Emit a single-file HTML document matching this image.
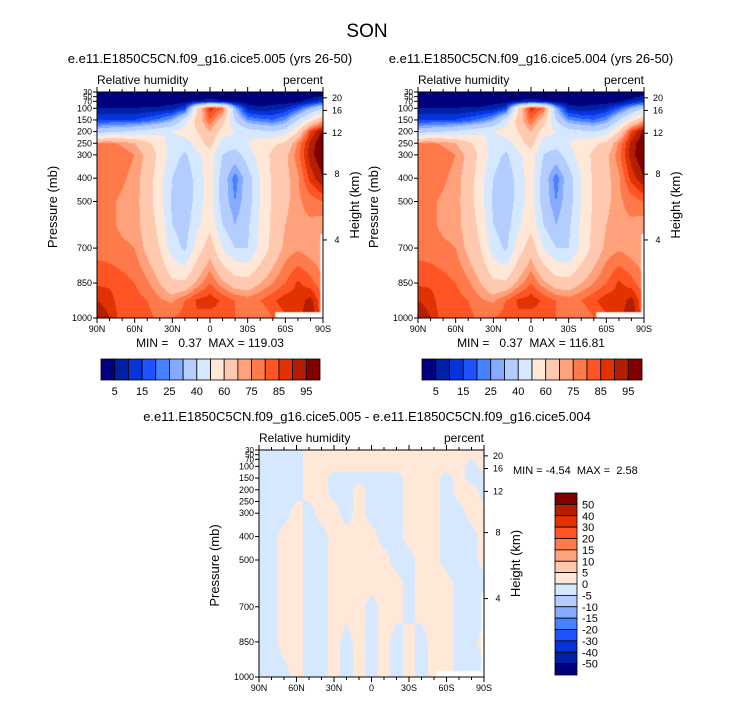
<!DOCTYPE html>
<html><head><meta charset="utf-8">
<style>
html,body{margin:0;padding:0;background:#fff;}
#wrap{position:relative;width:733px;height:701px;overflow:hidden;font-family:"Liberation Sans",Helvetica,sans-serif;}
canvas{position:absolute;}
svg{position:absolute;left:0;top:0;}
text{white-space:pre;}
</style></head>
<body>
<div id="wrap">
<canvas id="c1"></canvas>
<canvas id="c2"></canvas>
<canvas id="c3"></canvas>
<svg id="ov" width="733" height="701"></svg>
</div>
<script>
// ---- data ----
const lats = [90,80,70,60,50,40,30,20,10,0,-10,-20,-30,-40,-50,-60,-70,-80,-90];
const presLevels = [30,50,70,100,150,200,250,300,400,500,600,700,850,925,1000];
const rhRows = [
 [2,2,2,2,2,2,2,2,2,2,2,2,2,2,2,2,2,2,3],
 [2,2,2,2,2,2,2,2,2,3,2,2,2,2,2,2,2,3,6],
 [2,2,2,2,2,2,2,3,5,8,5,2,2,2,2,2,3,8,14],
 [5,5,5,5,6,6,8,14,60,88,80,30,8,6,8,10,18,30,40],
 [15,15,15,15,18,22,28,45,65,80,65,40,25,22,20,25,40,55,70],
 [35,38,40,42,45,48,50,55,60,70,55,50,45,42,40,45,60,85,97],
 [76,76,74,70,62,55,45,45,55,65,45,45,50,55,58,62,76,92,100],
 [80,80,78,75,68,57,45,38,48,55,40,35,45,55,62,68,78,93,100],
 [80,79,76,73,66,54,40,32,45,55,35,22,35,50,62,68,74,87,95],
 [78,76,74,73,65,54,38,32,45,55,35,25,35,50,62,68,74,77,80],
 [78,76,74,73,66,57,40,35,48,57,40,30,38,52,62,70,74,74,72],
 [78,77,76,75,68,60,45,38,55,66,50,40,40,52,64,72,74,72,70],
 [84,84,82,80,76,70,62,62,72,80,72,65,64,70,75,80,86,82,76],
 [90,87,82,82,80,76,74,80,86,88,84,80,78,80,84,88,87,92,80],
 [96,90,82,84,82,78,80,82,84,82,82,80,77,75,80,84,87,96,80]
];
const rhBounds = [5,10,15,20,25,30,40,50,60,70,75,80,85,90,95];
const rhTickLabels = ["5","15","25","40","60","75","85","95"];
const diffPres = [30,100,150,200,300,400,500,600,700,850,1000];
const diffRows = [
 [-1,-1,-1,-1,1,1,1,1,1,1,1,1,1,1,1,1,1,1,1],
 [-1,-1,-1,-1,1,1,1,1,1,1,1,1,1,1,1,1,1,-1,1],
 [-1,-1,-1,-1,1,1,-1,-1,-1,-1,-1,-1,1,1,1,-1,1,-1,-1],
 [-1,-1,-1,-1,1,1,-1,-1,1,-1,-1,-1,1,1,1,-1,1,1,-1],
 [-1,-1,-1,1,-1,1,1,-1,1,-1,-1,-1,1,1,1,-1,-1,1,1],
 [-1,-1,1,1,-1,-1,1,1,1,1,-1,-1,1,1,1,-1,-1,-1,1],
 [-1,-1,1,1,-1,-1,1,1,1,1,1,-1,-1,1,1,-1,-1,-1,1],
 [-1,-1,1,1,-1,-1,1,1,1,1,1,1,-1,1,1,1,-1,-1,-1],
 [-1,-1,1,1,-1,-1,1,1,1,-1,1,1,-1,1,1,1,-1,-1,-1],
 [-1,-1,1,1,-1,-1,1,-1,1,-1,1,-1,1,-1,1,1,-1,-1,1],
 [-1,-1,-1,1,-1,-1,1,-1,1,-1,1,-1,1,-1,1,1,-1,-1,-1]
];
const diffBounds = [-50,-40,-30,-20,-15,-10,-5,0,5,10,15,20,30,40,50];
const pTicks = [30,50,70,100,150,200,250,300,400,500,700,850,1000];
const hTicks = ["20","16","12","8","4"];
const hTickPres = [55,109,207,383,665];
const xTickLats = [90,60,30,0,-30,-60,-90];
const xTickLabels = ["90N","60N","30N","0","30S","60S","90S"];

const colors = ["#00007f","#0020a6","#0534d8","#1e52ff","#4682ff","#85aaff","#b3cdff","#d6e8ff","#ffe8d8","#ffc9b0","#ffa27c","#ff7a4a","#ff5424","#e13200","#b31e00","#800000"];

const svgNS="http://www.w3.org/2000/svg";
const ov=document.getElementById('ov');
function el(tag,attrs,parent){const e=document.createElementNS(svgNS,tag);for(const k in attrs)e.setAttribute(k,attrs[k]);(parent||ov).appendChild(e);return e;}
function txt(s,x,y,size,anchor,extra){const t=el('text',Object.assign({x:x,y:y,'font-size':size,'text-anchor':anchor||'middle',fill:'#000','font-family':'Liberation Sans, Helvetica, sans-serif'},extra||{}));t.textContent=s;return t;}

function levelIndex(v,bounds){let i=0;while(i<bounds.length&&v>=bounds[i])i++;return i;}
function sample(lat,p,rows,pl){
  let fx=(90-lat)/10; let i0=Math.min(17,Math.floor(fx)); let tx=fx-i0;
  let j0=0; while(j0<pl.length-2&&p>pl[j0+1])j0++;
  let ty=(p-pl[j0])/(pl[j0+1]-pl[j0]); ty=Math.max(0,Math.min(1,ty));
  const a=rows[j0][i0],b=rows[j0][i0+1],c=rows[j0+1][i0],d=rows[j0+1][i0+1];
  return (a*(1-tx)+b*tx)*(1-ty)+(c*(1-tx)+d*tx)*ty;
}

function panel(o){
  const {x0,y0,w,h}=o;
  const xs=lat=>x0+(90-lat)/180*w;
  const ys=p=>y0+(p-30)/970*h;
  const cv=document.getElementById(o.canvas);
  cv.width=w;cv.height=h;cv.style.left=x0+'px';cv.style.top=y0+'px';
  const ctx=cv.getContext('2d');
  for(let py=0;py<h;py++){
    const p=30+(py+0.5)/h*970;
    for(let px=0;px<w;px++){
      const lat=90-(px+0.5)/w*180;
      const v=sample(lat,p,o.rows,o.pl);
      ctx.fillStyle=o.colorFn(v);
      ctx.fillRect(px,py,1,1);
    }
  }
  if(o.mask){ctx.fillStyle='#fff';ctx.fillRect(xs(-52)-x0,ys(975)-y0,w,h);ctx.fillRect(xs(-88)-x0,ys(640)-y0,w,h);}
  const g=el('g',{});
  
  
  el('rect',{x:x0,y:y0,width:w,height:h,fill:'none',stroke:'#000','stroke-width':1},g);
  for(let lat=90;lat>=-90;lat-=10){
    const major=lat%30===0;const L=major?5:3;const x=xs(lat);
    el('line',{x1:x,x2:x,y1:y0+h,y2:y0+h+L,stroke:'#000'},g);
    el('line',{x1:x,x2:x,y1:y0,y2:y0-L,stroke:'#000'},g);
  }
  xTickLats.forEach((lat,i)=>{const t=txt(xTickLabels[i],xs(lat),y0+h+14,9,'middle');});
  pTicks.forEach(p=>{const y=ys(p);el('line',{x1:x0,x2:x0-4,y1:y,y2:y,stroke:'#000'},g);
    const t=txt(String(p),x0-5,y+3,p<100?8:9,'end');});
  hTicks.forEach((s,i)=>{const y=ys(hTickPres[i]);el('line',{x1:x0+w,x2:x0+w+4,y1:y,y2:y,stroke:'#000'},g);
    const t=txt(s,x0+w+14,y+3,9,'middle');});
  let t=txt('Pressure (mb)',0,0,13,'middle',{transform:`translate(${x0-40},${y0+h/2+2}) rotate(-90)`});
  
  t=txt('Height (km)',0,0,13,'middle',{transform:`translate(${x0+w+36},${y0+h/2}) rotate(-90)`});
  
  t=txt('Relative humidity',x0,y0-8,12,'start');
  t=txt('percent',x0+w,y0-8,12,'end');
}

const rhColor=v=>colors[levelIndex(v,rhBounds)];
const diffColor=v=>v<0?colors[7]:colors[8];

let t=txt('SON',367,37,19,'middle');

panel({name:'panel-005',canvas:'c1',x0:97,y0:92,w:226,h:226,rows:rhRows,pl:presLevels,colorFn:rhColor,mask:true});
panel({name:'panel-004',canvas:'c2',x0:418,y0:92,w:226,h:226,rows:rhRows,pl:presLevels,colorFn:rhColor,mask:true});
panel({name:'panel-diff',canvas:'c3',x0:259,y0:450,w:225,h:227,rows:diffRows,pl:diffPres,colorFn:diffColor,mask:true});

t=txt('e.e11.E1850C5CN.f09_g16.cice5.005 (yrs 26-50)',210,63,13,'middle');
t=txt('e.e11.E1850C5CN.f09_g16.cice5.004 (yrs 26-50)',531,63,13,'middle');
t=txt('e.e11.E1850C5CN.f09_g16.cice5.005 - e.e11.E1850C5CN.f09_g16.cice5.004',367,421,13,'middle');
t=txt('MIN =   0.37  MAX = 119.03',210,347,12,'middle');
t=txt('MIN =   0.37  MAX = 116.81',531,347,12,'middle');
t=txt('MIN = -4.54  MAX =  2.58',513,474,11,'start');

function hbar(x0,y0,w,h,name){
  const g=el('g',{});
  const bw=w/colors.length;
  colors.forEach((c,i)=>{const r=el('rect',{x:x0+i*bw,y:y0,width:bw,height:h,fill:c,stroke:'#000','stroke-width':0.8},g);
    });
  rhTickLabels.forEach((s,i)=>{const tt=txt(s,x0+(2*i+1)*bw,y0+h+15,11,'middle');});
}
hbar(101,359,219,21,'colorbar-005');
hbar(422,359,220,21,'colorbar-004');

(function(){
  const x0=555,y0=493,w=22,h=182;const g=el('g',{});
  
  const bh=h/colors.length;
  colors.slice().reverse().forEach((c,i)=>{const r=el('rect',{x:x0,y:y0+i*bh,width:w,height:bh,fill:c,stroke:'#000','stroke-width':0.8},g);
    });
  diffBounds.slice().reverse().forEach((b,i)=>{const tt=txt(String(b),x0+w+5,y0+(i+1)*bh+4,11,'start');});
})();
</script>
</body></html>
